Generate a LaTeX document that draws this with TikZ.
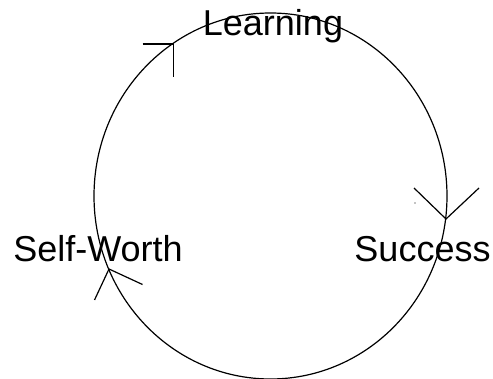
\documentclass[tikz,border=0pt]{standalone}
\usepackage{fontspec}
\setmainfont{Liberation Sans}
\begin{document}
\begin{tikzpicture}[x=1pt,y=-1pt,
  cycleline/.style={line width=1.2pt, black},
  headline/.style={line width=1.2pt, black},
  label/.style={font=\fontsize{36}{40}\selectfont, inner sep=0pt, anchor=base}]
\useasboundingbox (0,0) rectangle (493,379);
\clip (0,0) rectangle (493,379);
% cycle
\draw[cycleline] (270.5,196) ellipse [x radius=176.5pt, y radius=183pt];
% labels
\node[label] (learning) at (273,36) {Learning};
\node[label] (selfworth) at (98,262) {Self-Worth};
\node[label] (success) at (422.5,262) {Success};
% arrowheads
\coordinate (t1) at (173.5,44);
\coordinate (t1a) at (142.5,44);
\coordinate (t1b) at (173.5,77);
\draw[headline] (t1a) -- (t1) -- (t1b);
\coordinate (t2) at (446,219);
\coordinate (t2a) at (414,188);
\coordinate (t2b) at (479,188);
\draw[headline] (t2a) -- (t2) -- (t2b);
\coordinate (t3) at (109,269);
\coordinate (t3a) at (94.5,300);
\coordinate (t3b) at (142.5,284.5);
\draw[headline] (t3a) -- (t3) -- (t3b);
% stray dot
\fill (415,203) circle [radius=0.7pt];
\end{tikzpicture}
\end{document}
